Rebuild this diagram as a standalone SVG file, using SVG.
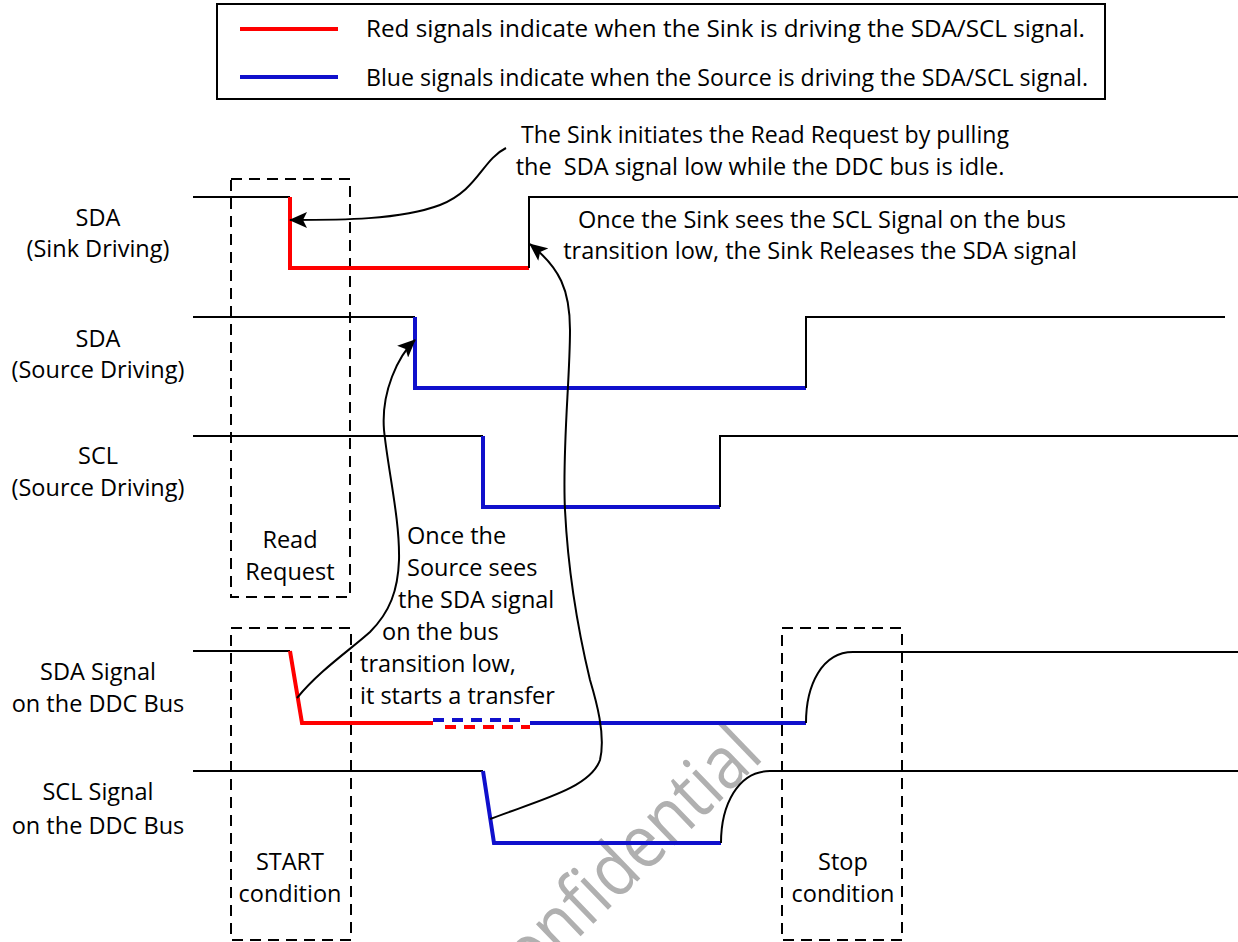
<svg xmlns="http://www.w3.org/2000/svg" width="1238" height="942" viewBox="0 0 1238 942">
<style>
text{font-family:"Open Sans","Liberation Sans",sans-serif;font-size:23.5px;fill:#000}
.c{text-anchor:middle}
.blk{fill:none;stroke:#000;stroke-width:2}
.red{fill:none;stroke:#ff0000;stroke-width:4}
.blu{fill:none;stroke:#1010cc;stroke-width:4}
.box{fill:none;stroke:#000;stroke-width:2;stroke-dasharray:11,7}
.arr{fill:none;stroke:#000;stroke-width:2;marker-end:url(#ah)}
.wm{font-size:74px;fill:#b0b0b0}
</style>
<defs>
<marker id="ah" markerUnits="userSpaceOnUse" markerWidth="18" markerHeight="16" viewBox="0 0 18 16" refX="17" refY="8" orient="auto">
<path d="M0,0 L18,8 L0,16 L4,8 Z" fill="#000"/>
</marker>
</defs>
<rect width="1238" height="942" fill="#fff"/>
<text class="wm" transform="translate(502,1012) rotate(-44)" textLength="366" lengthAdjust="spacingAndGlyphs">Confidential</text>

<g id="legend">
<rect x="217" y="4" width="888" height="95" fill="none" stroke="#000" stroke-width="2"/>
<line x1="240" y1="29" x2="338" y2="29" class="red"/>
<line x1="240" y1="77" x2="338" y2="77" class="blu"/>
<text x="366" y="37" textLength="719" lengthAdjust="spacingAndGlyphs">Red signals indicate when the Sink is driving the SDA/SCL signal.</text>
<text x="366" y="86" textLength="722" lengthAdjust="spacingAndGlyphs">Blue signals indicate when the Source is driving the SDA/SCL signal.</text>
</g>

<g id="box-read-request">
<rect x="231" y="179" width="119" height="418" class="box"/>
<text class="c" x="290" y="548">Read</text>
<text class="c" x="290" y="580">Request</text>
</g>
<g id="box-start">
<rect x="231" y="628" width="120" height="312" class="box"/>
<text class="c" x="290" y="870">START</text>
<text class="c" x="290" y="902">condition</text>
</g>
<g id="box-stop">
<rect x="782" y="628" width="120" height="312" class="box"/>
<text class="c" x="843" y="870">Stop</text>
<text class="c" x="843" y="902">condition</text>
</g>

<g id="sda-sink">
<text class="c" x="98" y="226">SDA</text>
<text class="c" x="98" y="257">(Sink Driving)</text>
<path class="blk" d="M193,197 H290"/>
<path class="red" d="M290,197 V268 H529"/>
<path class="blk" d="M529,268 V197 H1238"/>
</g>
<g id="sda-source">
<text class="c" x="98" y="347">SDA</text>
<text class="c" x="98" y="378">(Source Driving)</text>
<path class="blk" d="M193,317 H415"/>
<path class="blu" d="M415,317 V388 H806"/>
<path class="blk" d="M806,388 V317 H1225"/>
</g>
<g id="scl-source">
<text class="c" x="98" y="464">SCL</text>
<text class="c" x="98" y="496">(Source Driving)</text>
<path class="blk" d="M193,436 H483"/>
<path class="blu" d="M483,436 V507 H720"/>
<path class="blk" d="M720,507 V436 H1238"/>
</g>
<g id="sda-bus">
<text class="c" x="98" y="680">SDA Signal</text>
<text class="c" x="98" y="712">on the DDC Bus</text>
<path class="blk" d="M193,651 H290"/>
<path class="red" d="M290,651 L302,723 H433"/>
<path class="blu" d="M433,720 H520" stroke-dasharray="11,8"/>
<path class="red" d="M445,727 H530" stroke-dasharray="11,8"/>
<path class="blu" d="M530,723 H806"/>
<path class="blk" d="M806,723 C806,685 822,652 853,652 H1238"/>
</g>
<g id="scl-bus">
<text class="c" x="98" y="800">SCL Signal</text>
<text class="c" x="98" y="834">on the DDC Bus</text>
<path class="blk" d="M193,771 H483"/>
<path class="blu" d="M483,771 L494,843 H721"/>
<path class="blk" d="M721,843 C721,805 738,771 770,771 H1238"/>
</g>

<g id="note-sink-initiates">
<text class="c" x="765" y="143" textLength="488" lengthAdjust="spacingAndGlyphs">The Sink initiates the Read Request by pulling</text>
<text class="c" x="760" y="175" xml:space="preserve">the  SDA signal low while the DDC bus is idle.</text>
</g>
<g id="note-sink-releases">
<text class="c" x="822" y="228">Once the Sink sees the SCL Signal on the bus</text>
<text class="c" x="820" y="259">transition low, the Sink Releases the SDA signal</text>
</g>
<g id="note-source-starts">
<text x="407" y="544">Once the</text>
<text x="407" y="576">Source sees</text>
<text x="398" y="608">the SDA signal</text>
<text x="382" y="640">on the bus</text>
<text x="360" y="672">transition low,</text>
<text x="360" y="704">it starts a transfer</text>
</g>

<g id="connectors">
<path class="arr" d="M506,148 C482,160 478,190 440,205 C400,220 340,220 290,220"/>
<path class="arr" d="M490,819 C540,800 590,788 600,760 C606,735 596,700 590,680 C578,630 568,570 565,510 C562,450 570,380 570,330 C570,290 560,268 530,244"/>
<path class="arr" d="M297,698 C320,670 350,650 370,632 C390,612 398,590 399,560 C400,520 388,470 384,430 C381,392 398,356 415,340"/>
</g>
</svg>
